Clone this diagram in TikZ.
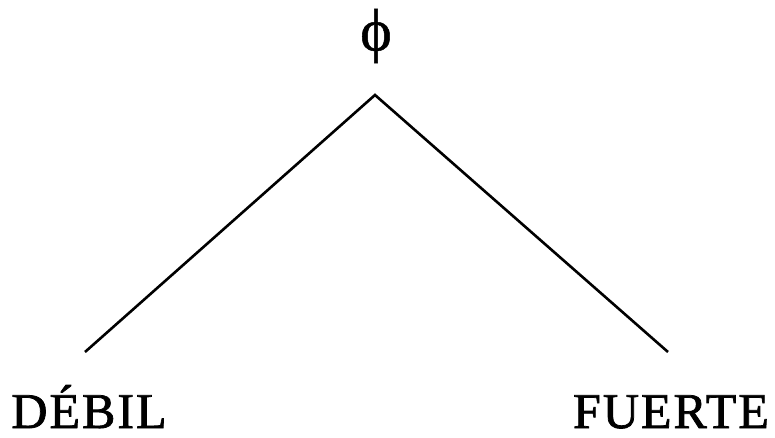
\documentclass[tikz,border=0pt]{standalone}
\usepackage{fontspec}
\setmainfont{Liberation Serif}
\newfontfamily\labfont[LetterSpace=4,FakeBold=1.5]{Liberation Serif}
\newfontfamily\symfont[FakeBold=0.8]{Liberation Serif}
\begin{document}
\begin{tikzpicture}[x=1pt,y=-1pt,
  lab/.style={font=\labfont\fontsize{50}{52}\selectfont, anchor=base, inner sep=0pt, text depth=0pt},
  sym/.style={font=\symfont\fontsize{60}{60}\selectfont, inner sep=0pt},
  branch/.style={line width=2.6pt, line join=miter}]
\useasboundingbox (0,0) rectangle (775,438);
\node[sym] (phi) at (376,36) {ϕ};
\coordinate (top) at (375,95);
\coordinate (l) at (85,352);
\coordinate (r) at (668,352);
\draw[branch] (l) -- (top) -- (r);
\node[lab] (debil) at (89,428) {DÉBIL};
\node[lab] (fuerte) at (671,428) {FUERTE};
\end{tikzpicture}
\end{document}
